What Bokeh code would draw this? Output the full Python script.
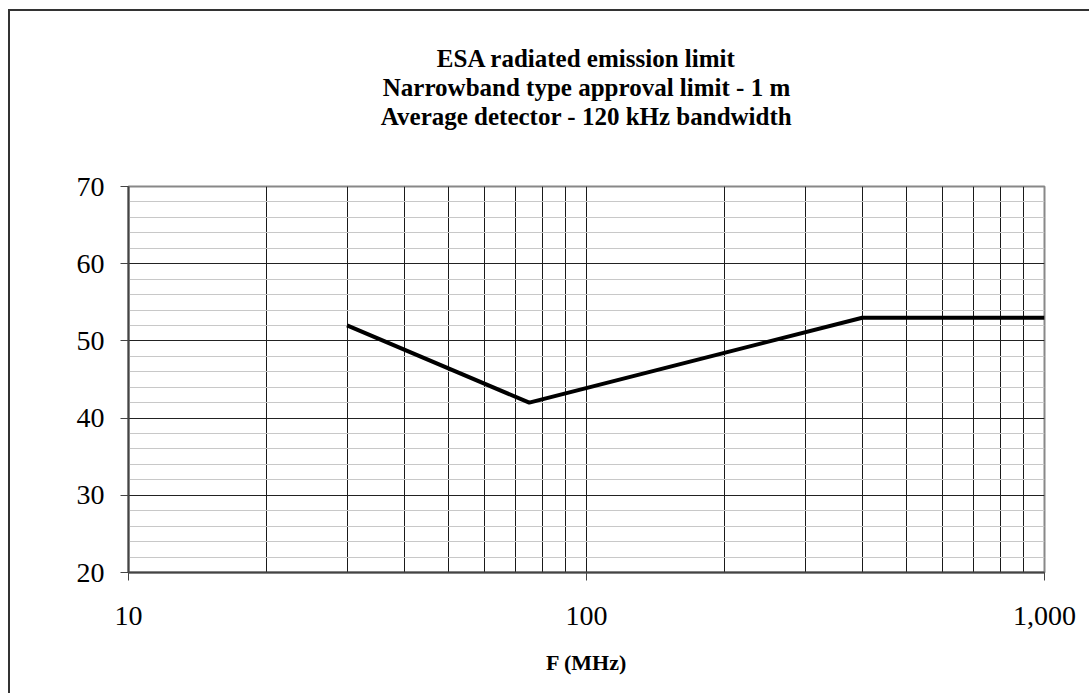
from bokeh.plotting import figure
from bokeh.models import FixedTicker, NumeralTickFormatter, Range1d, Title, LogAxis
from bokeh.embed import file_html
from bokeh.resources import INLINE

# data
freq_mhz = [30, 75, 400, 1000]
limit_db = [52, 42, 53, 53]
x_major = [10, 100, 1000]
x_grid = [20, 30, 40, 50, 60, 70, 80, 90, 100, 200, 300, 400, 500, 600, 700, 800, 900]
y_major = [20, 30, 40, 50, 60, 70]
y_minor = [22, 24, 26, 28, 32, 34, 36, 38, 42, 44, 46, 48, 52, 54, 56, 58, 62, 64, 66, 68]
title_lines = ["ESA radiated emission limit",
               "Narrowband type approval limit - 1 m",
               "Average detector - 120 kHz bandwidth"]

FONT = "Liberation Serif"

p = figure(width=1081, height=684, x_axis_type="log",
           x_range=Range1d(10, 1000), y_range=Range1d(20, 70),
           output_backend="svg", toolbar_location=None,
           min_border_left=118, min_border_right=47,
           min_border_top=175, min_border_bottom=123)
p.styles = {"border-top": "2px solid #333", "border-left": "2px solid #333",
            "margin-left": "8px", "margin-top": "9px"}

# main x axis (below) and y axis
xa = p.below[0]
ya = p.left[0]
xa.ticker = FixedTicker(ticks=x_major)
xa.formatter = NumeralTickFormatter(format="0,0")
ya.ticker = FixedTicker(ticks=y_major)
for axes in (xa, ya):
    axes.major_label_text_font = FONT
    axes.major_label_text_font_size = "28px"
    axes.major_label_text_color = "black"
    axes.axis_line_color = "#444444"
    axes.axis_line_width = 2
    axes.major_tick_line_color = "#444444"
    axes.major_tick_in = 0
    axes.major_tick_out = 8
    axes.minor_tick_line_color = None
ya.major_label_standoff = 16
xa.major_label_standoff = 26
xa.axis_label = "F (MHz)"
xa.axis_label_text_font = FONT
xa.axis_label_text_font_size = "22px"
xa.axis_label_text_font_style = "bold"
xa.axis_label_text_color = "black"
xa.axis_label_standoff = 22

# invisible spacer between the frame and the title block (closest to the frame)
spacer = LogAxis(ticker=FixedTicker(ticks=[100]), major_tick_in=0, major_tick_out=57,
                 major_label_standoff=0, major_label_text_font_size="0px",
                 major_label_overrides={100: ""}, major_label_text_alpha=0,
                 axis_line_color=None, major_tick_line_color=None,
                 minor_tick_line_color=None, minor_tick_in=0, minor_tick_out=0)
p.add_layout(spacer, "above")

def style_title(t):
    t.align = "center"
    t.text_font = FONT
    t.text_font_size = "25px"
    t.text_font_style = "bold"
    t.text_color = "black"
    t.text_line_height = 0.9
    t.standoff = 0

# p.title is the outermost; titles added later stack outward from the frame
t3 = Title(text=title_lines[2])
style_title(t3)
p.add_layout(t3, "above")
t2 = Title(text=title_lines[1])
style_title(t2)
p.add_layout(t2, "above")
p.title.text = title_lines[0]
style_title(p.title)

p.line(freq_mhz, limit_db, line_color="black", line_width=4)

# grids
p.xgrid.ticker = FixedTicker(ticks=x_grid)
p.xgrid.grid_line_color = "#1a1a1a"
p.xgrid.grid_line_width = 1
p.ygrid.ticker = FixedTicker(ticks=y_major, minor_ticks=y_minor)
p.ygrid.grid_line_color = "#222222"
p.ygrid.grid_line_width = 1
p.ygrid.minor_grid_line_color = "#c8c8c8"
p.ygrid.minor_grid_line_width = 1

p.outline_line_color = "#888888"
p.outline_line_width = 2
p.background_fill_color = "white"
p.border_fill_color = "white"

open("out.html", "w").write(file_html(p, INLINE))
